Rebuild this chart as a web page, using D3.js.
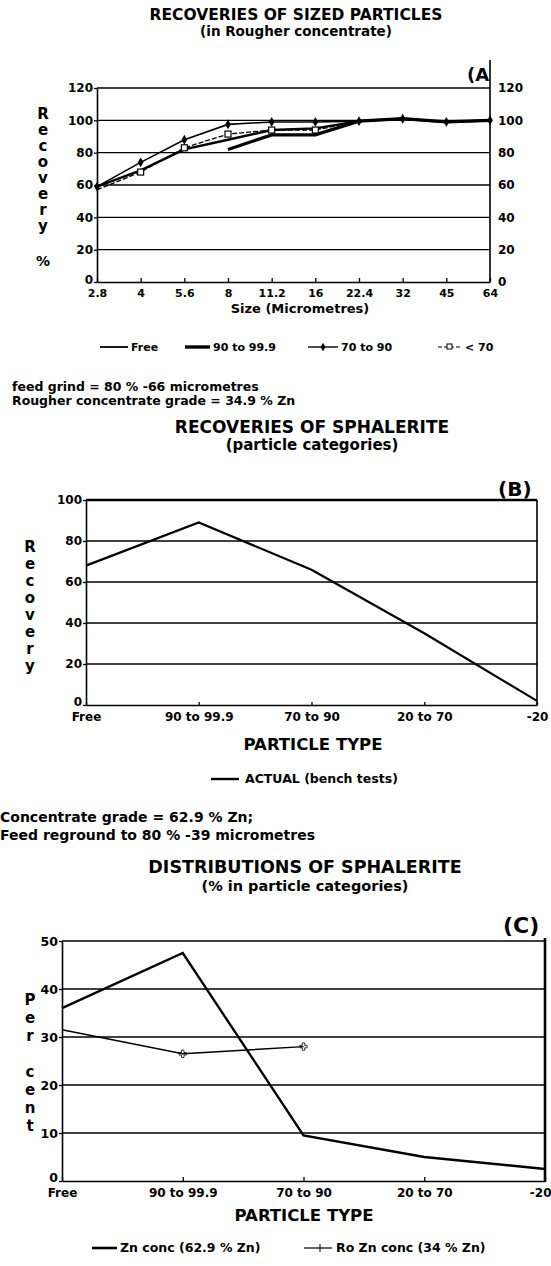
<!DOCTYPE html>
<html>
<head>
<meta charset="utf-8">
<script src="https://cdn.jsdelivr.net/npm/d3@7"></script>
<style>
  body { margin: 0; background: #fff; }
  svg { display: block; }
  text { font-family: "DejaVu Sans", "Liberation Sans", Arial, sans-serif; font-weight: bold; fill: #000; }
</style>
</head>
<body>
<svg id="chart" width="551" height="1266"></svg>
<script>
// ---- data: (A) recoveries by size class ----
const sizeLabels = ["2.8", "4", "5.6", "8", "11.2", "16", "22.4", "32", "45", "64"];
const recFree = [59, 69, 82, 88, 94, 95, 99.5, 101, 99, 100];
const rec90to99 = [null, null, null, 82, 91, 91, 99.5, 101, 99, 100];
const rec70to90 = [59, 74, 88, 97.5, 99, 99, 99.5, 101, 99, 100];
const recBelow70 = [57, 68, 83, 91.5, 94, 94, 99.5, 101, 99, 100];
const ticksA = [0, 20, 40, 60, 80, 100, 120];

// ---- data: (B) recovery by particle type ----
const particleTypes = ["Free", "90 to 99.9", "70 to 90", "20 to 70", "-20"];
const recActual = [68, 89, 66, 35, 2];
const ticksB = [0, 20, 40, 60, 80, 100];

// ---- data: (C) distribution by particle type ----
const distZnConc = [36, 47.5, 9.5, 5, 2.5];
const distRoZnConc = [31.5, 26.5, 28, null, null];
const ticksC = [0, 10, 20, 30, 40, 50];

const FONT = '"DejaVu Sans", "Liberation Sans", Arial, sans-serif';
const svg = d3.select("#chart");

// helpers
function txt(x, y, s, size, anchor) {
    return svg.append("text")
        .attr("x", x).attr("y", y)
        .attr("text-anchor", anchor || "start")
        .style("font-size", size + "px")
        .text(s);
}

function grid(y, ticks, x0, x1, w) {
    svg.append("g").selectAll("line")
        .data(ticks.filter(t => t > 0))
        .enter().append("line")
        .attr("x1", x0).attr("x2", x1)
        .attr("y1", d => y(d)).attr("y2", d => y(d))
        .attr("stroke", "#000").attr("stroke-width", w || 1.4);
}

function styleAxis(g, size) {
    g.select(".domain").attr("stroke", "#000").attr("stroke-width", 1.6);
    g.selectAll(".tick line").attr("stroke", "#000").attr("stroke-width", 1.3);
    g.selectAll("text").style("font-size", size + "px")
        .style("font-family", FONT)
        .style("font-weight", "bold").attr("fill", "#000");
}

function stackLetters(x, ys, letters, size) {
    letters.forEach((l, i) => txt(x, ys[i], l, size, "middle"));
}

// =================== PANEL A ===================
txt(296, 20, "RECOVERIES OF SIZED PARTICLES", 15.5, "middle");
txt(296, 36, "(in Rougher concentrate)", 13.5, "middle");
txt(467, 81, "(A", 18, "start");

const xA = d3.scalePoint().domain(sizeLabels).range([97, 490]);
const yA = d3.scaleLinear().domain([0, 120]).range([282, 88]);

grid(yA, ticksA, 97, 490);

const axLA = svg.append("g").attr("transform", "translate(97,0)")
    .call(d3.axisLeft(yA).tickValues(ticksA).tickSize(3).tickPadding(1).tickSizeOuter(0));
styleAxis(axLA, 12);
axLA.selectAll(".tick").filter(d => d === 0).select("text").attr("dy", "0.1em");
const axRA = svg.append("g").attr("transform", "translate(490,0)")
    .call(d3.axisRight(yA).tickValues(ticksA).tickSize(0).tickPadding(8));
styleAxis(axRA, 12);
axRA.select(".domain").remove();
svg.append("line").attr("x1", 490).attr("x2", 490).attr("y1", 60).attr("y2", 282)
    .attr("stroke", "#000").attr("stroke-width", 1.6);
const axBA = svg.append("g").attr("transform", "translate(0,282)")
    .call(d3.axisBottom(xA).tickSize(-4).tickPadding(6).tickSizeOuter(0));
styleAxis(axBA, 11);
axBA.selectAll(".tick text").attr("dy", "0.85em");

const lineA = d3.line()
    .defined(d => d != null)
    .x((d, i) => xA(sizeLabels[i]))
    .y(d => yA(d));

svg.append("path").datum(recFree).attr("d", lineA)
    .attr("fill", "none").attr("stroke", "#000").attr("stroke-width", 2.4);
svg.append("path").datum(rec90to99).attr("d", lineA)
    .attr("fill", "none").attr("stroke", "#000").attr("stroke-width", 3.2);
svg.append("path").datum(rec70to90).attr("d", lineA)
    .attr("fill", "none").attr("stroke", "#000").attr("stroke-width", 1.6);
svg.append("path").datum(recBelow70).attr("d", lineA)
    .attr("fill", "none").attr("stroke", "#000").attr("stroke-width", 1.3)
    .attr("stroke-dasharray", "5,2");

// markers
svg.append("g").selectAll("path")
    .data(rec70to90.map((v, i) => ({ v, i })).filter(d => d.v != null))
    .enter().append("path")
    .attr("d", d3.symbol().type(d3.symbolDiamond).size(28))
    .attr("transform", d => `translate(${xA(sizeLabels[d.i])},${yA(d.v)})`)
    .attr("fill", "#000");
svg.append("g").selectAll("rect")
    .data(recBelow70.map((v, i) => ({ v, i })).filter(d => d.v != null && d.i > 0 && d.i < 6))
    .enter().append("rect")
    .attr("x", d => xA(sizeLabels[d.i]) - 3).attr("y", d => yA(d.v) - 3)
    .attr("width", 6).attr("height", 6)
    .attr("fill", "#fff").attr("stroke", "#000").attr("stroke-width", 1.2);

stackLetters(43, [119, 135, 151, 167, 183, 199, 215, 231], "Recovery".split(""), 15);
txt(43, 266, "%", 14, "middle");
txt(300, 313, "Size  (Micrometres)", 13, "middle");

// legend A
const legA = svg.append("g");
legA.append("line").attr("x1", 100).attr("x2", 128).attr("y1", 347).attr("y2", 347)
    .attr("stroke", "#000").attr("stroke-width", 1.8);
legA.append("line").attr("x1", 185).attr("x2", 210).attr("y1", 347).attr("y2", 347)
    .attr("stroke", "#000").attr("stroke-width", 3.4);
legA.append("line").attr("x1", 308).attr("x2", 338).attr("y1", 347).attr("y2", 347)
    .attr("stroke", "#000").attr("stroke-width", 1.4);
legA.append("path").attr("d", d3.symbol().type(d3.symbolDiamond).size(22))
    .attr("transform", "translate(323,347)").attr("fill", "#000");
legA.append("line").attr("x1", 438).attr("x2", 461).attr("y1", 347).attr("y2", 347)
    .attr("stroke", "#000").attr("stroke-width", 1.2).attr("stroke-dasharray", "4,2");
legA.append("rect").attr("x", 447).attr("y", 344).attr("width", 5).attr("height", 5)
    .attr("fill", "#fff").attr("stroke", "#000").attr("stroke-width", 1);
txt(131, 351, "Free", 11);
txt(213, 351, "90 to 99.9", 11);
txt(341, 351, "70 to 90", 11);
txt(465, 351, "< 70", 11);

txt(12, 391, "feed grind = 80 % -66 micrometres", 12.5);
txt(12, 405, "Rougher concentrate grade = 34.9 % Zn", 12.5);

// =================== PANEL B ===================
txt(312, 433, "RECOVERIES OF SPHALERITE", 17, "middle");
txt(312, 450, "(particle categories)", 15, "middle");
txt(498, 496, "(B)", 20, "start");

const xB = d3.scalePoint().domain(particleTypes).range([86, 537]);
const yB = d3.scaleLinear().domain([0, 100]).range([705, 500]);

grid(yB, ticksB, 86, 537);
svg.append("line").attr("x1", 86).attr("x2", 537).attr("y1", yB(100)).attr("y2", yB(100))
    .attr("stroke", "#000").attr("stroke-width", 2.6);

const axLB = svg.append("g").attr("transform", "translate(86,0)")
    .call(d3.axisLeft(yB).tickValues(ticksB).tickSize(3).tickPadding(1).tickSizeOuter(0));
styleAxis(axLB, 12);
axLB.selectAll(".tick").filter(d => d === 0).select("text").attr("dy", "0.05em");
svg.append("line").attr("x1", 537).attr("x2", 537).attr("y1", 500).attr("y2", 705)
    .attr("stroke", "#000").attr("stroke-width", 1.6);
const axBB = svg.append("g").attr("transform", "translate(0,705)")
    .call(d3.axisBottom(xB).tickSize(-3).tickPadding(4).tickSizeOuter(0));
styleAxis(axBB, 12);
axBB.selectAll(".tick text").attr("dy", "1em");

const lineB = d3.line().x((d, i) => xB(particleTypes[i])).y(d => yB(d));
svg.append("path").datum(recActual).attr("d", lineB)
    .attr("fill", "none").attr("stroke", "#000").attr("stroke-width", 2.2);

stackLetters(30, [552, 569, 586, 603, 620, 637, 654, 671], "Recovery".split(""), 15);
txt(313, 750, "PARTICLE TYPE", 16.5, "middle");

svg.append("line").attr("x1", 211).attr("x2", 239).attr("y1", 779).attr("y2", 779)
    .attr("stroke", "#000").attr("stroke-width", 2.4);
txt(245, 783, "ACTUAL (bench tests)", 12.5);

// =================== PANEL C ===================
txt(0, 822, "Concentrate grade = 62.9 % Zn;", 14);
txt(0, 840, "Feed reground to 80 % -39 micrometres", 14);
txt(305, 873, "DISTRIBUTIONS OF SPHALERITE", 17.5, "middle");
txt(305, 891, "(% in particle categories)", 14.5, "middle");
txt(503, 933, "(C)", 22, "start");

const xC = d3.scalePoint().domain(particleTypes).range([62, 545]);
const yC = d3.scaleLinear().domain([0, 50]).range([1181, 941]);

grid(yC, ticksC, 62, 545);

const axLC = svg.append("g").attr("transform", "translate(62,0)")
    .call(d3.axisLeft(yC).tickValues(ticksC).tickSize(3).tickPadding(1).tickSizeOuter(0));
styleAxis(axLC, 12.5);
axLC.selectAll(".tick").filter(d => d === 0).select("text").attr("dy", "0.05em");
svg.append("line").attr("x1", 545).attr("x2", 545).attr("y1", 938).attr("y2", 1182)
    .attr("stroke", "#000").attr("stroke-width", 2.6);
const axBC = svg.append("g").attr("transform", "translate(0,1181)")
    .call(d3.axisBottom(xC).tickSize(-4).tickPadding(4).tickSizeOuter(0));
styleAxis(axBC, 12);
axBC.selectAll(".tick text").attr("dy", "1em");
// last label would run past the page edge: pull it in
axBC.selectAll(".tick").filter(d => d === "-20").select("text")
    .attr("text-anchor", "end").attr("x", 6);

const lineC = d3.line()
    .defined(d => d != null)
    .x((d, i) => xC(particleTypes[i]))
    .y(d => yC(d));
svg.append("path").datum(distZnConc).attr("d", lineC)
    .attr("fill", "none").attr("stroke", "#000").attr("stroke-width", 2.4);
svg.append("path").datum(distRoZnConc).attr("d", lineC)
    .attr("fill", "none").attr("stroke", "#000").attr("stroke-width", 1.4);
svg.append("g").selectAll("path")
    .data(distRoZnConc.map((v, i) => ({ v, i })).filter(d => d.v != null && d.i > 0))
    .enter().append("path")
    .attr("d", d3.symbol().type(d3.symbolCross).size(30))
    .attr("transform", d => `translate(${xC(particleTypes[d.i])},${yC(d.v)})`)
    .attr("fill", "none").attr("stroke", "#000").attr("stroke-width", 0.8);

stackLetters(30, [1005, 1023, 1041, 1077, 1095, 1113, 1131], "Percent".split(""), 15);
txt(304, 1221, "PARTICLE TYPE", 16.5, "middle");

svg.append("line").attr("x1", 92).attr("x2", 117).attr("y1", 1248).attr("y2", 1248)
    .attr("stroke", "#000").attr("stroke-width", 2.6);
txt(120, 1252, "Zn conc (62.9 % Zn)", 12.5);
svg.append("line").attr("x1", 304).attr("x2", 332).attr("y1", 1248).attr("y2", 1248)
    .attr("stroke", "#000").attr("stroke-width", 1.2);
svg.append("line").attr("x1", 320).attr("x2", 320).attr("y1", 1244).attr("y2", 1252)
    .attr("stroke", "#000").attr("stroke-width", 1);
txt(336, 1252, "Ro Zn conc (34 % Zn)", 12.5);
</script>
</body>
</html>
